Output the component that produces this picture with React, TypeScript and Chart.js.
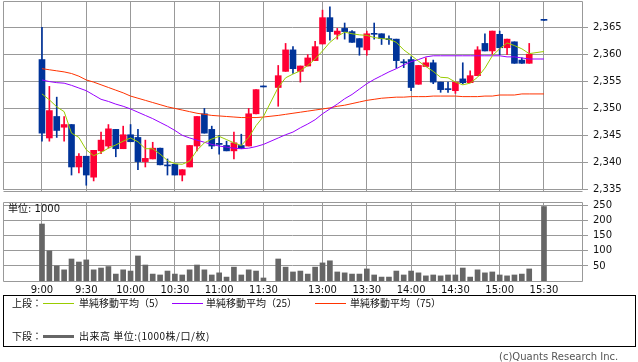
import React, { useEffect, useRef } from 'react';
import { Chart, registerables } from 'chart.js';

Chart.register(...registerables);

// 5-minute slots; '' marks the lunch-break gap slot
const slots: string[] = [
  '9:00', '9:05', '9:10', '9:15', '9:20', '9:25', '9:30', '9:35', '9:40', '9:45', '9:50', '9:55',
  '10:00', '10:05', '10:10', '10:15', '10:20', '10:25', '10:30', '10:35', '10:40', '10:45', '10:50', '10:55',
  '11:00', '11:05', '11:10', '11:15', '11:20', '11:25', '11:30', '',
  '12:30', '12:35', '12:40', '12:45', '12:50', '12:55',
  '13:00', '13:05', '13:10', '13:15', '13:20', '13:25', '13:30', '13:35', '13:40', '13:45', '13:50', '13:55',
  '14:00', '14:05', '14:10', '14:15', '14:20', '14:25', '14:30', '14:35', '14:40', '14:45', '14:50', '14:55',
  '15:00', '15:05', '15:10', '15:15', '15:20', '15:25', '15:30',
];

const tickTimes = ['9:00', '9:30', '10:00', '10:30', '11:00', '11:30', '13:00', '13:30', '14:00', '14:30', '15:00', '15:30'];
const priceTicks = [2335, 2340, 2345, 2350, 2355, 2360, 2365];
const volumeTicks = [50, 100, 150, 200, 250];

const opens: (number | null)[] = [
  2359.1, 2344.5, 2348.5, 2346.5, 2347.0, 2339.1, 2341.1, 2337.2, 2342.1, 2343.0,
  2346.1, 2342.5, 2345.1, 2344.6, 2340.1, 2340.6, 2342.6, 2339.3, 2339.6, 2337.6,
  2339.1, 2343.0, 2349.0, 2346.1, 2343.5, 2343.1, 2342.1, 2343.1, 2343.0, 2349.0,
  2354.0, null, 2353.9, 2356.9, 2360.9, 2356.9, 2357.9, 2358.9, 2362.0, 2366.9,
  2363.8, 2364.9, 2364.3, 2363.0, 2360.9, 2363.8, 2363.9, 2363.0, 2362.9, 2358.5,
  2359.1, 2354.5, 2357.8, 2358.5, 2354.9, 2353.5, 2353.3, 2355.5, 2354.8, 2356.1,
  2362.1, 2360.7, 2363.8, 2361.3, 2362.4, 2359.0, 2358.4, null, 2366.4,
];
const highs: (number | null)[] = [
  2365.1, 2354.1, 2352.1, 2348.5, 2347.0, 2341.6, 2341.1, 2342.2, 2345.6, 2347.0,
  2346.1, 2346.7, 2347.0, 2346.1, 2344.1, 2343.7, 2342.6, 2340.6, 2339.6, 2338.6,
  2343.1, 2348.5, 2350.0, 2346.7, 2345.0, 2343.9, 2345.6, 2345.2, 2350.0, 2353.5,
  2354.0, null, 2358.0, 2362.1, 2361.5, 2357.9, 2360.0, 2362.5, 2368.3, 2368.9,
  2364.9, 2365.9, 2364.5, 2363.0, 2364.4, 2365.9, 2363.9, 2363.5, 2362.9, 2359.1,
  2359.6, 2358.0, 2359.4, 2359.0, 2354.9, 2354.9, 2354.9, 2358.5, 2357.0, 2361.5,
  2363.9, 2364.4, 2364.4, 2362.9, 2362.4, 2359.4, 2362.1, null, 2366.4,
];
const lows: (number | null)[] = [
  2343.9, 2343.9, 2344.6, 2343.9, 2337.6, 2338.0, 2335.7, 2336.5, 2341.6, 2342.6,
  2341.0, 2342.5, 2343.8, 2338.6, 2339.1, 2340.6, 2339.5, 2337.6, 2337.6, 2336.5,
  2339.1, 2342.1, 2345.4, 2342.5, 2341.5, 2342.1, 2340.6, 2342.5, 2343.0, 2349.0,
  2354.0, null, 2350.4, 2356.9, 2356.5, 2354.9, 2357.9, 2358.9, 2362.0, 2362.7,
  2362.9, 2362.9, 2362.3, 2359.9, 2359.9, 2362.9, 2361.9, 2361.9, 2357.5, 2357.6,
  2353.3, 2354.5, 2357.8, 2354.6, 2353.0, 2353.0, 2352.8, 2354.6, 2354.8, 2356.1,
  2360.7, 2360.1, 2360.0, 2360.0, 2358.4, 2358.4, 2358.4, null, 2366.4,
];
const closes: (number | null)[] = [
  2345.4, 2349.6, 2345.9, 2347.0, 2339.1, 2341.1, 2337.6, 2342.2, 2344.1, 2346.2,
  2342.5, 2345.1, 2343.8, 2340.1, 2340.7, 2342.6, 2339.5, 2339.3, 2337.6, 2338.6,
  2343.1, 2348.5, 2345.4, 2343.0, 2343.3, 2342.1, 2343.6, 2342.5, 2349.0, 2353.5,
  2354.0, null, 2356.1, 2360.9, 2357.4, 2357.9, 2359.4, 2361.5, 2366.9, 2364.3,
  2364.4, 2364.3, 2362.3, 2361.4, 2363.9, 2363.8, 2363.0, 2362.8, 2358.9, 2358.5,
  2353.9, 2358.0, 2358.5, 2354.9, 2353.5, 2353.5, 2354.9, 2354.8, 2356.1, 2360.9,
  2360.7, 2364.4, 2361.3, 2362.9, 2358.4, 2358.4, 2360.1, null, 2366.4,
];
const volumes: (number | null)[] = [
  189, 100, 50, 37, 73, 63, 70, 37, 43, 48,
  23, 37, 33, 83, 53, 23, 20, 33, 23, 20,
  37, 53, 37, 20, 27, 13, 46, 20, 37, 33,
  10, null, 73, 46, 30, 33, 23, 46, 60, 67,
  30, 27, 23, 23, 40, 20, 13, 13, 33, 20,
  33, 27, 17, 20, 17, 20, 20, 43, 13, 37,
  27, 30, 20, 17, 20, 23, 40, null, 247,
];
const ma5: (number | null)[] = [
  2352.7, 2351.6, 2350.3, 2349.4, 2345.4, 2344.6, 2342.3, 2341.2, 2341.8, 2342.6,
  2343.2, 2343.9, 2344.5, 2343.8, 2342.5, 2342.5, 2341.5, 2340.3, 2339.7, 2339.6,
  2340.2, 2342.2, 2343.6, 2344.3, 2344.8, 2344.2, 2343.6, 2343.1, 2344.6, 2346.8,
  2348.5, null, 2353.9, 2355.7, 2356.4, 2357.0, 2358.0, 2359.2, 2360.7, 2362.3,
  2363.4, 2364.2, 2363.9, 2363.7, 2363.6, 2363.2, 2363.0, 2362.9, 2362.3, 2360.9,
  2359.9, 2358.8, 2357.8, 2356.9, 2355.8, 2355.7, 2354.9, 2354.4, 2354.7, 2355.8,
  2357.5, 2359.8, 2361.1, 2362.2, 2361.7, 2361.1, 2360.2, null, 2360.6,
];
const ma25: (number | null)[] = [
  2355.3, 2355.0, 2354.8, 2354.7, 2354.3, 2353.8, 2353.3, 2352.5, 2351.7, 2351.3,
  2350.8, 2350.4, 2349.9, 2349.3, 2348.7, 2348.1, 2347.4, 2346.7, 2345.9, 2345.0,
  2344.5, 2344.1, 2343.7, 2343.3, 2343.0, 2342.8, 2342.6, 2342.5, 2342.6, 2342.9,
  2343.3, null, 2344.5, 2345.1, 2345.6, 2346.4, 2347.1, 2347.9, 2349.0, 2349.9,
  2350.8, 2351.8, 2352.6, 2353.6, 2354.6, 2355.4, 2356.1, 2356.8, 2357.4, 2358.1,
  2358.7, 2359.1, 2359.6, 2359.8, 2359.8, 2359.8, 2359.8, 2359.8, 2359.8, 2359.8,
  2359.8, 2359.8, 2359.8, 2359.6, 2359.6, 2359.4, 2359.2, null, 2359.2,
];
const ma75: (number | null)[] = [
  2357.4, 2357.2, 2357.0, 2356.8, 2356.5, 2356.0, 2355.3, 2354.9, 2354.4, 2353.9,
  2353.4, 2352.9, 2352.3, 2351.9, 2351.5, 2351.1, 2350.7, 2350.3, 2350.0, 2349.7,
  2349.4, 2349.1, 2348.9, 2348.7, 2348.6, 2348.5, 2348.4, 2348.3, 2348.3, 2348.3,
  2348.4, null, 2348.7, 2348.9, 2349.1, 2349.3, 2349.5, 2349.7, 2349.9, 2350.1,
  2350.4, 2350.6, 2350.9, 2351.2, 2351.5, 2351.7, 2351.9, 2352.0, 2352.1, 2352.1,
  2352.2, 2352.2, 2352.2, 2352.3, 2352.3, 2352.3, 2352.3, 2352.2, 2352.2, 2352.2,
  2352.3, 2352.3, 2352.5, 2352.5, 2352.5, 2352.7, 2352.7, null, 2352.7,
];

const UP = '#FF0033';
const DOWN = '#003399';
const GRID = '#999999';
const VOL = '#666666';
const C_MA5 = '#99CC00';
const C_MA25 = '#9900FF';
const C_MA75 = '#FF3300';
const FONT = '"DejaVu Sans", "Noto Sans CJK JP", sans-serif';
const JFONT = '"Noto Sans CJK JP", "DejaVu Sans", sans-serif';

const X_MIN = -5.28;
const X_MAX = 73.15;
const tickIdx = tickTimes.map((t) => slots.indexOf(t));

const framePlugin = {
  id: 'frame',
  beforeDatasetsDraw(chart: any, _args: any, opts: any) {
    const { ctx, chartArea: a } = chart;
    ctx.save();
    ctx.strokeStyle = GRID;
    ctx.lineWidth = 1;
    const l = Math.round(a.left) + 0.5;
    const t = Math.round(a.top) + 0.5;
    const r = Math.round(a.right) + 0.5;
    const b = Math.round(a.bottom) + 0.5;
    ctx.beginPath();
    ctx.moveTo(l, t);
    ctx.lineTo(r, t);
    ctx.lineTo(r, b);
    ctx.lineTo(l, b);
    ctx.closePath();
    ctx.stroke();
    if (opts && opts.extra) {
      ctx.beginPath();
      ctx.moveTo(l, b + 2);
      ctx.lineTo(r, b + 2);
      ctx.stroke();
    }
    ctx.restore();
  },
};

function xScale(showLabels: boolean, height: number) {
  return {
    type: 'linear',
    min: X_MIN,
    max: X_MAX,
    offset: false,
    grid: {
      offset: false,
      color: GRID,
      lineWidth: 1,
      drawTicks: !showLabels,
      tickLength: 2,
    },
    border: { display: false },
    ticks: {
      display: showLabels,
      autoSkip: false,
      maxRotation: 0,
      padding: 3,
      color: '#111',
      font: { family: FONT, size: 10 },
      callback: (v: number) => slots[v] ?? '',
    },
    afterBuildTicks: (s: any) => {
      s.ticks = tickIdx.map((v) => ({ value: v }));
    },
    afterFit: (s: any) => {
      s.height = height;
      s.paddingLeft = 0;
      s.paddingRight = 0;
    },
  };
}

function yScale(min: number, max: number, ticks: number[], fmt: (v: number) => string) {
  return {
    type: 'linear',
    position: 'right',
    min,
    max,
    grid: { color: GRID, lineWidth: 1, drawTicks: true, tickLength: 6 },
    border: { display: false },
    ticks: {
      padding: 5,
      color: '#111',
      font: { family: FONT, size: 10 },
      callback: (v: number) => fmt(v),
    },
    afterBuildTicks: (s: any) => {
      s.ticks = ticks.map((v) => ({ value: v }));
    },
    afterFit: (s: any) => {
      s.width = 56;
      s.paddingTop = 0;
      s.paddingBottom = 0;
    },
  };
}

const present = (i: number) => opens[i] !== null && closes[i] !== null;

export default function App() {
  const topRef = useRef<HTMLCanvasElement | null>(null);
  const volRef = useRef<HTMLCanvasElement | null>(null);

  useEffect(() => {
    const idx = slots.map((_, i) => i).filter(present);
    const colorOf = (i: number) => ((closes[i] as number) > (opens[i] as number) ? UP : DOWN);

    const bodies = idx.map((i) => ({ x: i, y: [opens[i], closes[i]] }));
    const wicks = idx.map((i) => ({ x: i, y: [lows[i], highs[i]] }));
    const colors = idx.map(colorOf);
    const line = (arr: (number | null)[]) =>
      arr.map((v, i) => (v === null ? null : { x: i, y: v })).filter((p) => p !== null);

    const lineDs = (arr: (number | null)[], color: string) =>
      ({
        type: 'line',
        data: line(arr) as any,
        borderColor: color,
        borderWidth: 1,
        pointRadius: 0,
        tension: 0,
        order: 0,
      }) as any;

    const top = new Chart(topRef.current as HTMLCanvasElement, {
      type: 'bar',
      data: {
        datasets: [
          lineDs(ma5, C_MA5),
          lineDs(ma25, C_MA25),
          lineDs(ma75, C_MA75),
          {
            type: 'bar',
            data: bodies as any,
            backgroundColor: colors,
            borderWidth: 0,
            barThickness: 6,
            minBarLength: 1,
            grouped: false,
            order: 1,
          } as any,
          {
            type: 'bar',
            data: wicks as any,
            backgroundColor: colors,
            borderWidth: 0,
            barThickness: 1,
            minBarLength: 1,
            grouped: false,
            order: 2,
          } as any,
        ],
      },
      options: {
        responsive: false,
        animation: false,
        devicePixelRatio: 1,
        layout: { padding: { left: 3, top: 1, right: 0, bottom: 0 } },
        plugins: { legend: { display: false }, tooltip: { enabled: false }, frame: { extra: true } } as any,
        scales: {
          x: xScale(false, 11) as any,
          y: yScale(2335, 2370, priceTicks, (v) => v.toLocaleString('en-US')) as any,
        },
      },
      plugins: [framePlugin],
    });

    const vIdx = slots.map((_, i) => i).filter((i) => volumes[i] !== null);
    const vol = new Chart(volRef.current as HTMLCanvasElement, {
      type: 'bar',
      data: {
        datasets: [
          {
            data: vIdx.map((i) => ({ x: i, y: volumes[i] })) as any,
            backgroundColor: VOL,
            borderWidth: 0,
            barThickness: 5,
            grouped: false,
          },
        ],
      },
      options: {
        responsive: false,
        animation: false,
        devicePixelRatio: 1,
        layout: { padding: { left: 3, top: 8, right: 0, bottom: 0 } },
        plugins: { legend: { display: false }, tooltip: { enabled: false }, frame: { extra: false } } as any,
        scales: {
          x: xScale(true, 17) as any,
          y: yScale(0, 262, volumeTicks, (v) => String(v)) as any,
        },
      },
      plugins: [framePlugin],
    });

    return () => {
      top.destroy();
      vol.destroy();
    };
  }, []);

  const abs = (o: any): React.CSSProperties => ({ position: 'absolute', whiteSpace: 'nowrap', ...o });
  const legendText = (left: number, top: number, text: string, extra: any = {}) => (
    <div style={abs({ left, top, fontFamily: JFONT, fontSize: 10, lineHeight: '14px', color: '#111', ...extra })}>
      {text}
    </div>
  );
  const swatch = (left: number, top: number, width: number, color: string, h: number) => (
    <div style={abs({ left, top: top - Math.floor(h / 2), width, height: h, background: color })} />
  );

  return (
    <div style={{ position: 'fixed', left: 0, top: 0, width: 638, height: 362, background: '#fff', overflow: 'hidden' }}>
      <canvas ref={topRef} width={638} height={200} style={abs({ left: 0, top: 0, width: 638, height: 200 })} />
      <canvas ref={volRef} width={638} height={104} style={abs({ left: 0, top: 194, width: 638, height: 104 })} />
      <div style={abs({ left: 8, top: 202, fontFamily: FONT, fontSize: 10, lineHeight: '14px', color: '#111' })}>単位: 1000</div>
      <div
        style={abs({
          left: 3,
          top: 295,
          width: 633,
          height: 52,
          boxSizing: 'border-box',
          border: '1px solid #000',
        })}
      />
      {legendText(12, 296, '上段：')}
      {swatch(43, 303, 31, C_MA5, 1)}
      {legendText(79, 296, '単純移動平均（5）')}
      {swatch(172, 303, 31, C_MA25, 1)}
      {legendText(206, 296, '単純移動平均（25）')}
      {swatch(315, 303, 31, C_MA75, 1)}
      {legendText(350, 296, '単純移動平均（75）')}
      {legendText(12, 329, '下段：')}
      {swatch(43, 336, 31, VOL, 3)}
      {legendText(79, 329, '出来高 単位:(1000株/口/枚)', { letterSpacing: '0.5px' })}
      <div style={abs({ left: 499, top: 350, fontFamily: FONT, fontSize: 10, lineHeight: '14px', color: '#555' })}>
        (c)Quants Research Inc.
      </div>
    </div>
  );
}
